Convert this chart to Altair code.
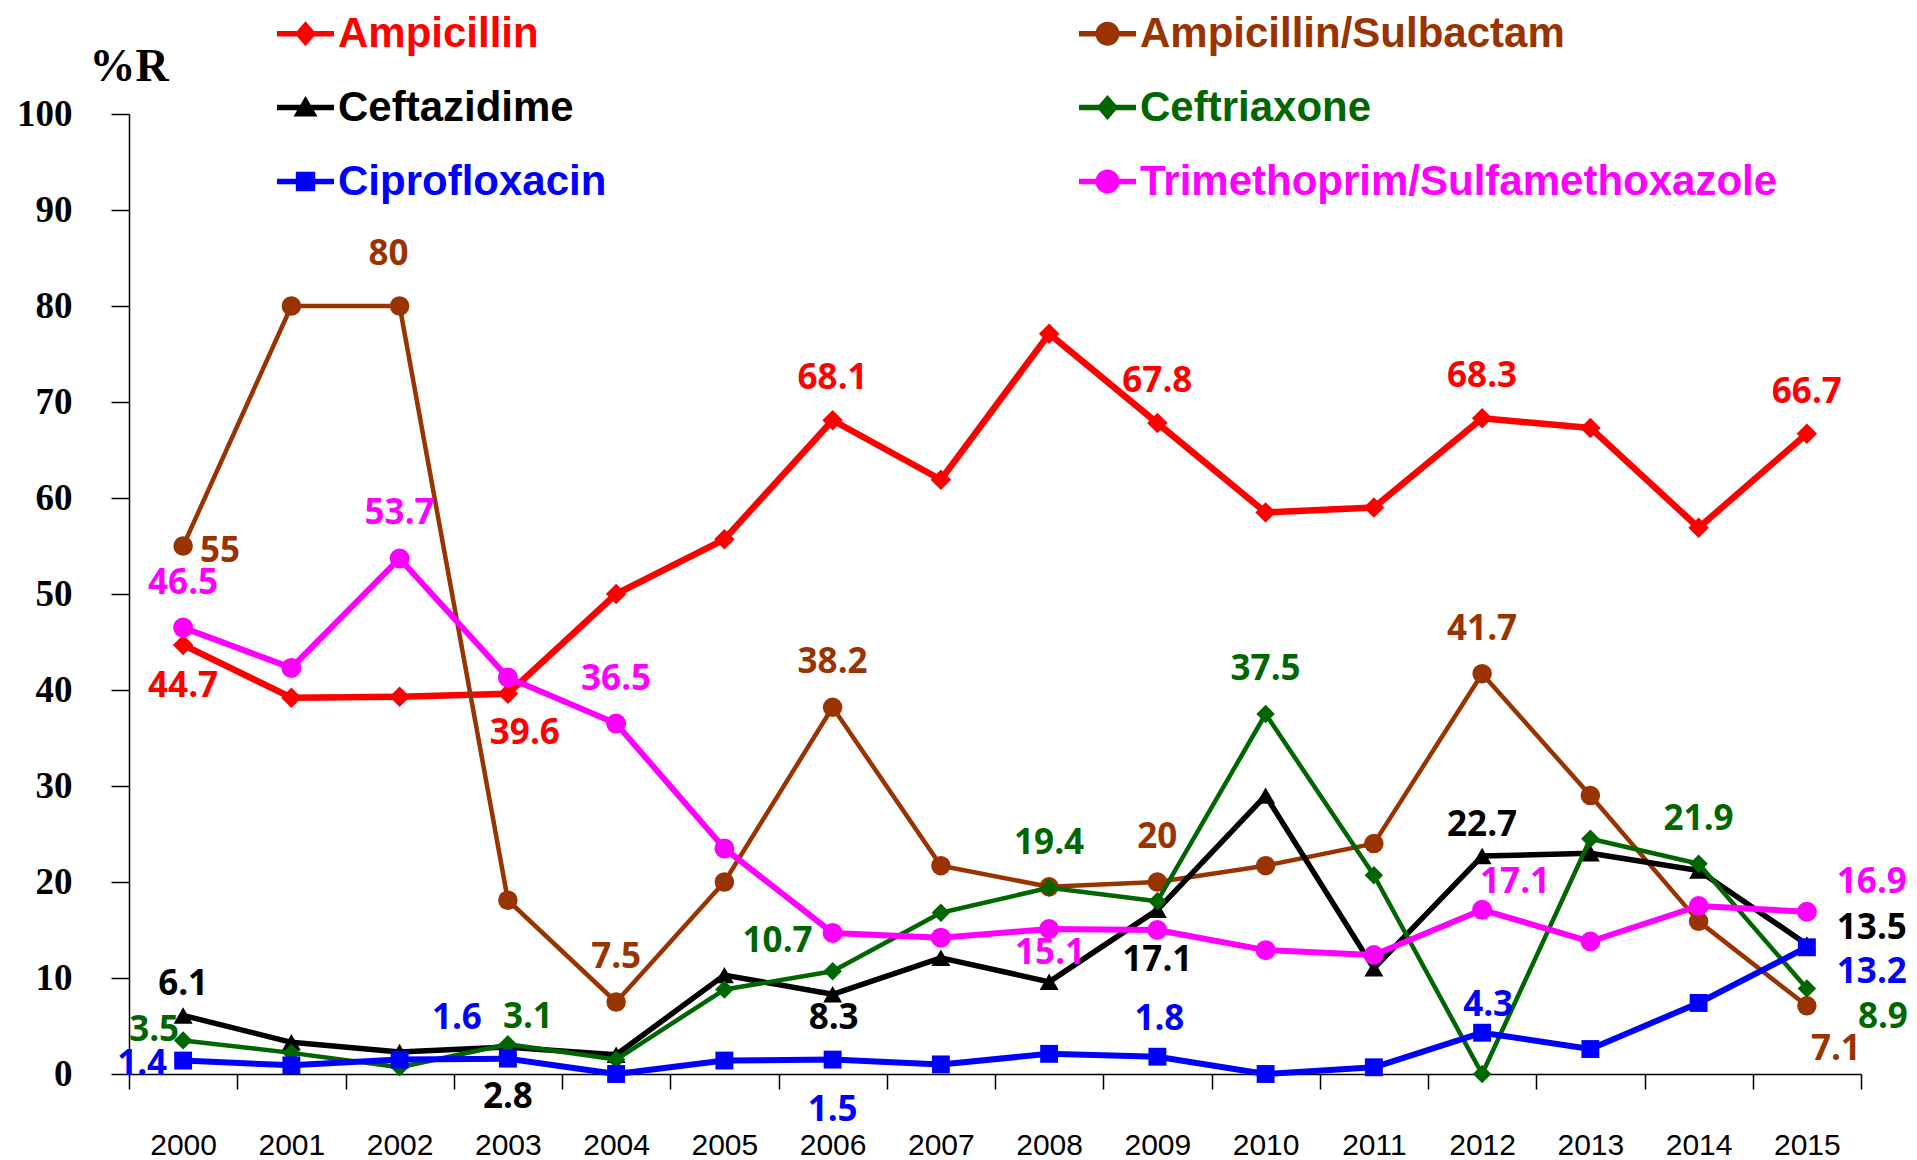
import altair as alt
import pandas as pd

years = [str(y) for y in range(2000, 2016)]

series_names = [
    "Ampicillin",
    "Ampicillin/Sulbactam",
    "Ceftazidime",
    "Ceftriaxone",
    "Ciprofloxacin",
    "Trimethoprim/Sulfamethoxazole",
]
series_colors = ["#FF0000", "#993300", "#000000", "#006600", "#0000FF", "#FF00FF"]

ampicillin = [44.7, 39.2, 39.3, 39.6, 50.0, 55.7, 68.1, 61.9, 77.1, 67.8, 58.5, 59.0, 68.3, 67.3, 56.9, 66.7]
ampicillin_sulbactam = [55, 80, 80, 18.1, 7.5, 20.0, 38.2, 21.7, 19.5, 20, 21.7, 24.0, 41.7, 29.0, 15.9, 7.1]
ceftazidime = [6.1, 3.3, 2.3, 2.8, 2.0, 10.3, 8.3, 12.1, 9.6, 17.1, 29.0, 11.0, 22.7, 23.0, 21.2, 13.5]
ceftriaxone = [3.5, 2.2, 0.7, 3.1, 1.5, 8.8, 10.7, 16.8, 19.4, 18.0, 37.5, 20.7, 0.0, 24.5, 21.9, 8.9]
ciprofloxacin = [1.4, 0.9, 1.5, 1.6, 0.0, 1.4, 1.5, 1.0, 2.1, 1.8, 0.0, 0.7, 4.3, 2.6, 7.4, 13.2]
tmp_smx = [46.5, 42.3, 53.7, 41.3, 36.5, 23.5, 14.7, 14.2, 15.1, 15.0, 12.9, 12.4, 17.1, 13.8, 17.5, 16.9]

series_values = [ampicillin, ampicillin_sulbactam, ceftazidime, ceftriaxone, ciprofloxacin, tmp_smx]

# which points carry a value label, and where the label sits
labelled_points = [
    ("Ampicillin", "2000", "below"),
    ("Ampicillin", "2003", "below_right"),
    ("Ampicillin", "2006", "above_near"),
    ("Ampicillin", "2009", "above_near"),
    ("Ampicillin", "2012", "above_near"),
    ("Ampicillin", "2015", "above_near"),
    ("Ampicillin/Sulbactam", "2000", "right"),
    ("Ampicillin/Sulbactam", "2002", "above_left"),
    ("Ampicillin/Sulbactam", "2004", "above"),
    ("Ampicillin/Sulbactam", "2006", "above"),
    ("Ampicillin/Sulbactam", "2009", "above"),
    ("Ampicillin/Sulbactam", "2012", "above"),
    ("Ampicillin/Sulbactam", "2015", "end_5"),
    ("Ceftazidime", "2000", "above_low"),
    ("Ceftazidime", "2003", "below_far"),
    ("Ceftazidime", "2006", "below_near"),
    ("Ceftazidime", "2009", "below_far"),
    ("Ceftazidime", "2012", "above_low"),
    ("Ceftazidime", "2015", "end_2"),
    ("Ceftriaxone", "2000", "left_slight"),
    ("Ceftriaxone", "2003", "right_up"),
    ("Ceftriaxone", "2006", "left_up"),
    ("Ceftriaxone", "2008", "above"),
    ("Ceftriaxone", "2010", "above"),
    ("Ceftriaxone", "2014", "above"),
    ("Ceftriaxone", "2015", "end_4"),
    ("Ciprofloxacin", "2000", "left"),
    ("Ciprofloxacin", "2003", "left_up_high"),
    ("Ciprofloxacin", "2006", "below_far"),
    ("Ciprofloxacin", "2009", "above_mid"),
    ("Ciprofloxacin", "2012", "above_small"),
    ("Ciprofloxacin", "2015", "end_3"),
    ("Trimethoprim/Sulfamethoxazole", "2000", "above"),
    ("Trimethoprim/Sulfamethoxazole", "2002", "above"),
    ("Trimethoprim/Sulfamethoxazole", "2004", "above"),
    ("Trimethoprim/Sulfamethoxazole", "2008", "below_near"),
    ("Trimethoprim/Sulfamethoxazole", "2012", "right_up_wide"),
    ("Trimethoprim/Sulfamethoxazole", "2015", "end_1"),
]

# label offsets (style, pixels)
placements = {
    "above": (0, -45),
    "above_near": (0, -42),
    "above_left": (-11, -52),
    "above_low": (0, -31),
    "above_mid": (2, -38),
    "above_small": (6, -28),
    "below": (0, 41),
    "below_right": (17, 39),
    "below_far": (0, 50),
    "below_near": (1, 24),
    "right": (37, 5),
    "left": (-41, 3),
    "left_slight": (-29, -10),
    "left_up": (-55, -30),
    "left_up_high": (-51, -41),
    "right_up": (20, -27),
    "right_up_wide": (33, -28),
    "end_1": (65, -30),
    "end_2": (65, -16),
    "end_3": (65, 25),
    "end_4": (76, 28),
    "end_5": (29, 43),
}

# marker styles per series
marker_shapes = ["diamond", "circle", "triangle-up", "diamond", "square", "circle"]
marker_sizes = [420, 380, 360, 340, 320, 400]
line_widths = [6.5, 4.5, 5.5, 4.5, 6, 6]

# legend symbols: short line with the marker in the middle (SVG paths on a [-1,1] box)
bar = "M-1,-0.1H1V0.1H-1Z"
legend_paths = [
    bar + "M0,-0.44L0.38,0L0,0.44L-0.38,0Z",
    bar + "M-0.42,0A0.42,0.42,0,1,1,0.42,0A0.42,0.42,0,1,1,-0.42,0Z",
    bar + "M0,-0.4L0.42,0.32H-0.42Z",
    bar + "M0,-0.44L0.38,0L0,0.44L-0.38,0Z",
    bar + "M-0.34,-0.34H0.34V0.34H-0.34Z",
    bar + "M-0.42,0A0.42,0.42,0,1,1,0.42,0A0.42,0.42,0,1,1,-0.42,0Z",
]

label_lookup = {(s, y): p for s, y, p in labelled_points}
rows = []
for name, vals in zip(series_names, series_values):
    for yr, v in zip(years, vals):
        rows.append({
            "year": yr,
            "series": name,
            "value": v,
            "text": f"{v:g}",
            "placement": label_lookup.get((name, yr), ""),
        })
df = pd.DataFrame(rows)

color_scale = alt.Scale(domain=series_names, range=series_colors)

x_enc = alt.X(
    "year:N",
    sort=years,
    scale=alt.Scale(type="band", domain=years, paddingInner=0, paddingOuter=0),
    axis=alt.Axis(
        title=None,
        labelAngle=0,
        labelFont="Liberation Sans",
        labelFontSize=30,
        labelColor="#000000",
        labelPadding=41,
        tickBand="extent",
        tickSize=15,
        tickColor="#000000",
        tickWidth=1.5,
        domainColor="#000000",
        domainWidth=1.5,
        grid=False,
    ),
)
y_enc = alt.Y(
    "value:Q",
    scale=alt.Scale(domain=[0, 100], nice=False, zero=True),
    axis=alt.Axis(
        title="%R",
        values=list(range(0, 101, 10)),
        labelFont="Liberation Serif",
        labelFontWeight="bold",
        labelFontSize=37,
        labelColor="#000000",
        labelPadding=39,
        tickSize=18,
        tickColor="#000000",
        tickWidth=1.5,
        domainColor="#000000",
        domainWidth=1.5,
        grid=False,
        titleFont="Liberation Serif",
        titleFontWeight="bold",
        titleFontSize=46,
        titleColor="#000000",
        titleAngle=0,
        titleAlign="left",
        titleBaseline="alphabetic",
        titleX=-40,
        titleY=-34,
    ),
)
color_nolegend = alt.Color("series:N", scale=color_scale, legend=None)

color_expr = "".join(
    f"datum.value === '{n}' ? '{c}' : " for n, c in zip(series_names, series_colors)
) + "'#000000'"

legend_kw = dict(
    orient="none",
    direction="horizontal",
    legendX=148,
    legendY=-109,
    columns=2,
    columnPadding=472,
    rowPadding=24,
    padding=0,
    symbolSize=3249,
    symbolStrokeWidth=0,
    symbolOpacity=1,
    labelFont="Liberation Sans",
    labelFontWeight="bold",
    labelFontSize=42,
    labelColor=alt.ExprRef(color_expr),
    labelOffset=4,
    labelLimit=2000,
)

# legend carrier first, so its legend settings win when layers are merged
layers = [
    alt.Chart(df)
    .transform_filter("false")
    .mark_point(filled=True, opacity=1)
    .encode(
        color=alt.Color("series:N", scale=color_scale, title=None, legend=alt.Legend(**legend_kw)),
        shape=alt.Shape(
            "series:N",
            scale=alt.Scale(domain=series_names, range=legend_paths),
            title=None,
            legend=alt.Legend(**legend_kw),
        ),
    )
]

for name, shape, msize, lw in zip(series_names, marker_shapes, marker_sizes, line_widths):
    base = alt.Chart(df).transform_filter(alt.datum.series == name)
    layers.append(
        base.mark_line(strokeWidth=lw, strokeJoin="round").encode(x=x_enc, y=y_enc, color=color_nolegend)
    )
    layers.append(
        base.mark_point(shape=shape, filled=True, size=msize, opacity=1).encode(
            x=x_enc, y=y_enc, color=color_nolegend
        )
    )

for pname, (dx, dy) in placements.items():
    layers.append(
        alt.Chart(df)
        .transform_filter(alt.datum.placement == pname)
        .mark_text(
            dx=dx, dy=dy, font="Open Sans", fontWeight="bold", fontSize=35,
            align="center", baseline="middle",
        )
        .encode(x=x_enc, y=y_enc, text="text:N", color=color_nolegend)
    )

chart = (
    alt.layer(*layers)
    .properties(
        width=1732,
        height=960,
        autosize=alt.AutoSizeParams(type="none"),
        padding={"left": 121, "top": 106, "right": 48, "bottom": 86},
        background="#FFFFFF",
    )
    .configure_view(strokeWidth=0)
)

chart.save("out.html", embed_options={"renderer": "svg", "actions": False})
